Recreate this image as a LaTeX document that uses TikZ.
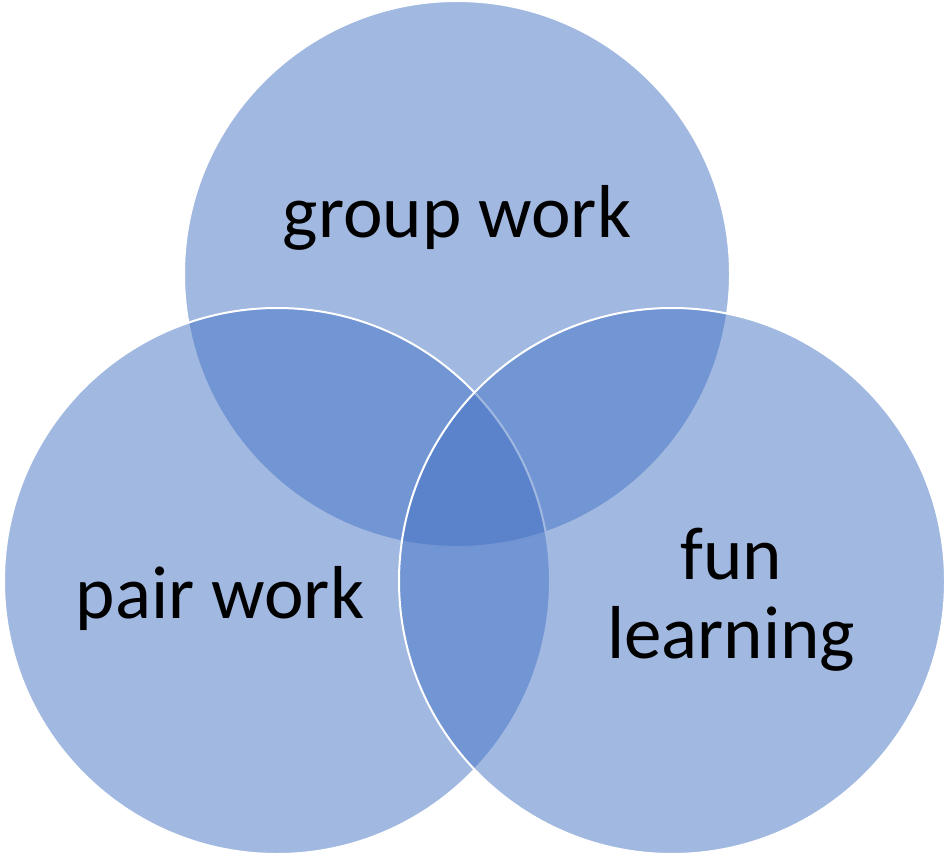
\documentclass[tikz,border=0pt]{standalone}
\usepackage{fontspec}
\setmainfont{Carlito}
\definecolor{venn}{HTML}{4472C4}
\tikzset{
  venncircle/.style={fill=venn, fill opacity=0.5, draw=white, draw opacity=1, line width=2pt},
  venntext/.style={font=\fontsize{75}{79}\selectfont, text=black, align=center}
}
\begin{document}
\begin{tikzpicture}[x=1pt,y=-1pt]
\useasboundingbox (0,0) rectangle (949,858);
\path[venncircle] (457,274) circle[radius=273];
\path[venncircle] (277,581) circle[radius=273];
\path[venncircle] (672,581) circle[radius=273];
\node[venntext] (g) at (457,218) {group work};
\node[venntext] (p) at (220,598) {pair work};
\node[venntext] (f) at (731,600) {fun\\learning};
\end{tikzpicture}
\end{document}
